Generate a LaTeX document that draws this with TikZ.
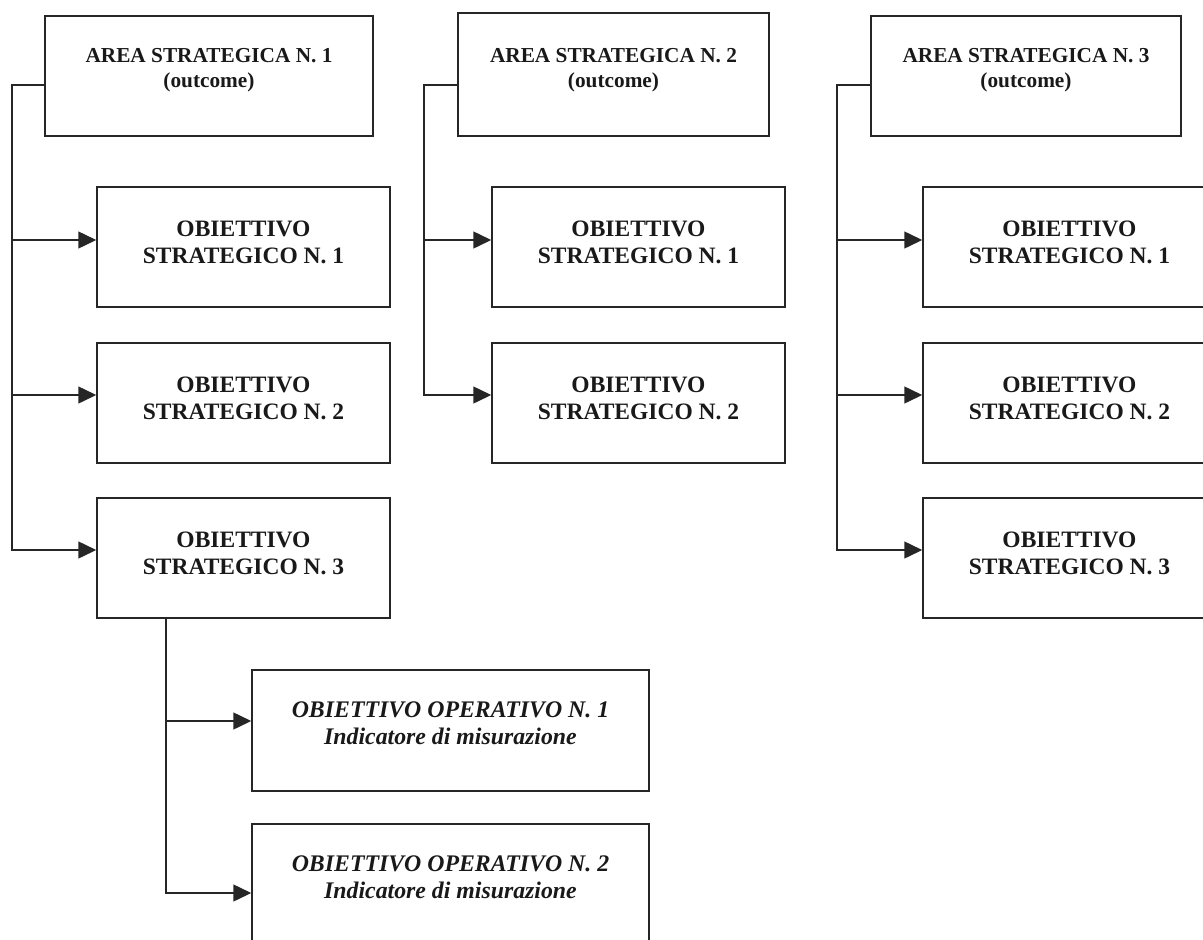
\documentclass[tikz,border=0pt]{standalone}
\usepackage{fontspec}
\setmainfont{Liberation Serif}
\usetikzlibrary{arrows.meta,positioning,calc}

\begin{document}
\begin{tikzpicture}[
    x=1pt, y=-1pt,
    box/.style={draw=black!85, line width=1.5pt, minimum height=120pt,
      inner sep=0pt, minimum width=#1},
    box/.default=293pt,
    arealbl/.style={font=\fontsize{21.3}{25}\selectfont\bfseries, align=center, text=black!90},
    objlbl/.style={font=\fontsize{23.5}{27}\selectfont\bfseries, align=center, text=black!90},
    oplbl/.style={font=\fontsize{23.8}{27}\selectfont\bfseries\itshape, align=center, text=black!90},
    link/.style={draw=black!85, line width=1.5pt},
    arr/.style={link, -{Triangle[length=18pt,width=17pt]}},
  ]

  \useasboundingbox (0,0) rectangle (1203,940);

  % ---------- area 1 ----------
  \node[box=328pt] (A1) at (209,76) {};
  \node[arealbl] (A1t) at ([yshift=6pt]A1.center) {AREA STRATEGICA N. 1\\(outcome)};
  \node[box] (S11) at (243.5,247) {};
  \node[objlbl] (S11t) at ([yshift=4.5pt]S11.center) {OBIETTIVO\\STRATEGICO N. 1};
  \node[box] (S12) at (243.5,403) {};
  \node[objlbl] (S12t) at ([yshift=4.5pt]S12.center) {OBIETTIVO\\STRATEGICO N. 2};
  \node[box] (S13) at (243.5,558) {};
  \node[objlbl] (S13t) at ([yshift=4.5pt]S13.center) {OBIETTIVO\\STRATEGICO N. 3};

  % operative goals under S13
  \node[box=397pt, minimum height=121pt] (P1) at (450.5,730.5) {};
  \node[oplbl] (P1t) at ([yshift=7pt]P1.center) {OBIETTIVO OPERATIVO N. 1\\Indicatore di misurazione};
  \node[box=397pt, minimum height=121pt] (P2) at (450.5,884.5) {};
  \node[oplbl] (P2t) at ([yshift=7pt]P2.center) {OBIETTIVO OPERATIVO N. 2\\Indicatore di misurazione};

  % ---------- area 2 ----------
  \node[box=311pt, minimum height=123pt] (A2) at (613.5,74.5) {};
  \node[arealbl] (A2t) at ([yshift=4.5pt]A2.center) {AREA STRATEGICA N. 2\\(outcome)};
  \node[box] (S21) at (638.5,247) {};
  \node[objlbl] (S21t) at ([yshift=4.5pt]S21.center) {OBIETTIVO\\STRATEGICO N. 1};
  \node[box] (S22) at (638.5,403) {};
  \node[objlbl] (S22t) at ([yshift=4.5pt]S22.center) {OBIETTIVO\\STRATEGICO N. 2};

  % ---------- area 3 ----------
  \node[box=310pt] (A3) at (1026,76) {};
  \node[arealbl] (A3t) at ([yshift=6pt]A3.center) {AREA STRATEGICA N. 3\\(outcome)};
  \node[box] (S31) at (1069.5,247) {};
  \node[objlbl] (S31t) at ([yshift=4.5pt]S31.center) {OBIETTIVO\\STRATEGICO N. 1};
  \node[box] (S32) at (1069.5,403) {};
  \node[objlbl] (S32t) at ([yshift=4.5pt]S32.center) {OBIETTIVO\\STRATEGICO N. 2};
  \node[box] (S33) at (1069.5,558) {};
  \node[objlbl] (S33t) at ([yshift=4.5pt]S33.center) {OBIETTIVO\\STRATEGICO N. 3};

  % arrow ends, a bit above the box centres
  \coordinate (e11) at ([yshift=7pt]S11.west);
  \coordinate (e12) at ([yshift=8pt]S12.west);
  \coordinate (e13) at ([yshift=8pt]S13.west);
  \coordinate (e21) at ([yshift=7pt]S21.west);
  \coordinate (e22) at ([yshift=8pt]S22.west);
  \coordinate (e31) at ([yshift=7pt]S31.west);
  \coordinate (e32) at ([yshift=8pt]S32.west);
  \coordinate (e33) at ([yshift=8pt]S33.west);
  \coordinate (p1) at ([yshift=9.5pt]P1.west);
  \coordinate (p2) at ([yshift=-8.5pt]P2.west);

  % trunks
  \coordinate (T1) at (12,85);
  \coordinate (T2) at (424,85);
  \coordinate (T3) at (837,85);
  \coordinate (T4) at ([xshift=69.75pt]S13.south west);

  \draw[arr] ([yshift=-9pt]A1.west) -- (T1) |- (e13);
  \draw[arr] (e11 -| T1) -- (e11);
  \draw[arr] (e12 -| T1) -- (e12);

  \draw[arr] ([yshift=-10.5pt]A2.west) -- (T2) |- (e22);
  \draw[arr] (e21 -| T2) -- (e21);

  \draw[arr] ([yshift=-9pt]A3.west) -- (T3) |- (e33);
  \draw[arr] (e31 -| T3) -- (e31);
  \draw[arr] (e32 -| T3) -- (e32);

  \draw[arr] (T4) |- (p2);
  \draw[arr] (p1 -| T4) -- (p1);

\end{tikzpicture}
\end{document}
